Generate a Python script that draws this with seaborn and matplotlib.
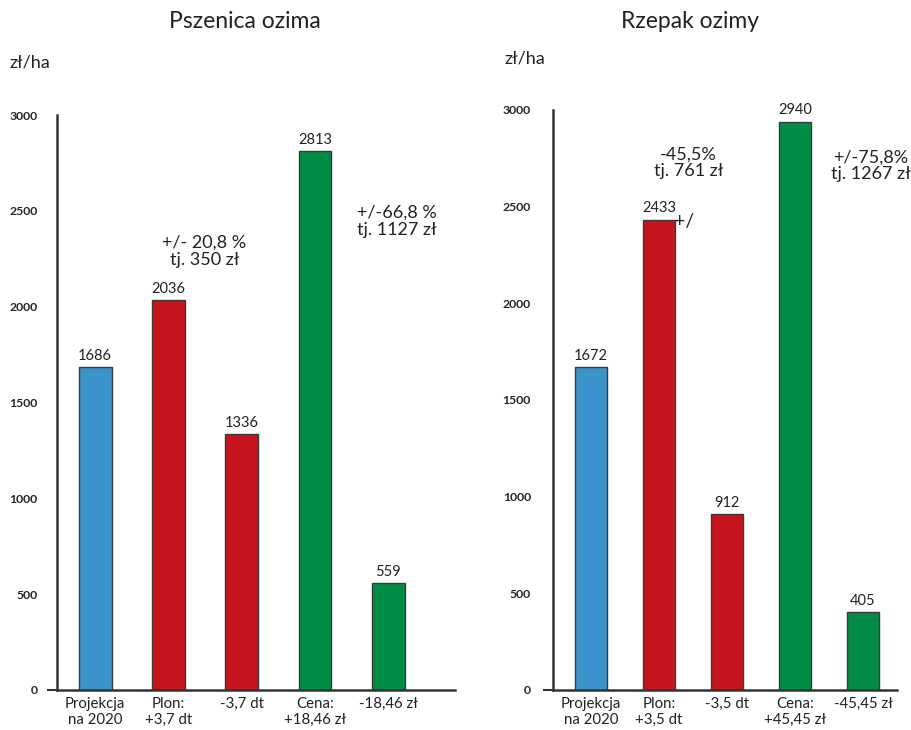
import matplotlib
matplotlib.use("Agg")
import matplotlib.pyplot as plt
import seaborn as sns

# dane
wheat_cats = ["Projekcja\nna 2020", "Plon:\n+3,7 dt", "-3,7 dt", "Cena:\n+18,46 zł", "-18,46 zł"]
wheat_vals = [1686, 2036, 1336, 2813, 559]
rape_cats = ["Projekcja\nna 2020", "Plon:\n+3,5 dt", "-3,5 dt", "Cena:\n+45,45 zł", "-45,45 zł"]
rape_vals = [1672, 2433, 912, 2940, 405]
yticks = [0, 500, 1000, 1500, 2000, 2500, 3000]

BLUE, RED, GREEN = "#3c92cb", "#c5141c", "#008c44"
bar_colors = [BLUE, RED, RED, GREEN, GREEN]

sns.set_theme(style="white")
plt.rcParams["font.family"] = ["Lato", "DejaVu Sans"]

fig = plt.figure(figsize=(9.11, 7.30), dpi=100)
ax1 = fig.add_axes([57 / 911, 40 / 730, (455 - 57) / 911, 575 / 730])
ax2 = fig.add_axes([553 / 911, 40 / 730, (897 - 553) / 911, 580 / 730])


def draw(ax, cats, vals, xlim, width, pad):
    sns.barplot(x=cats, y=vals, hue=cats, palette=bar_colors, legend=False,
                saturation=1, width=width, edgecolor="#3a3a3a", linewidth=1.0, ax=ax)
    for c in ax.containers:
        ax.bar_label(c, padding=3, fontsize=10.5, color="#222", clip_on=False)
    ax.set_ylim(0, 3000)
    ax.set_xlim(*xlim)
    ax.set_yticks(yticks)
    ax.set_yticklabels([str(t) for t in yticks], fontsize=8.8, fontweight="bold")
    ax.yaxis.remove_overlapping_locs = False
    ax.set_yticks([0], minor=True)
    ax.tick_params(axis="y", which="major", length=0, pad=pad)
    ax.tick_params(axis="y", which="minor", length=7, width=1.5, color="#333", left=True)
    ax.tick_params(axis="x", length=0, pad=5, labelsize=10.8, labelcolor="#222")
    for s in ["top", "right"]:
        ax.spines[s].set_visible(False)
    for s in ["left", "bottom"]:
        ax.spines[s].set_color("#333")
        ax.spines[s].set_linewidth(1.8)
    ax.set_xlabel("")
    ax.set_ylabel("")


draw(ax1, wheat_cats, wheat_vals, (-0.52, 4.91), 0.45, 14)
draw(ax2, rape_cats, rape_vals, (-0.56, 4.5), 0.47, 16)

# adnotacje
kw = dict(ha="center", va="center", fontsize=13, color="#222", clip_on=False)
ax1.text(1.49, 2290, "+/- 20,8 %\ntj. 350 zł", linespacing=1.1, **kw)
ax1.text(4.12, 2447, "+/-66,8 %\ntj. 1127 zł", linespacing=1.1, **kw)
ax2.text(1.43, 2726, "-45,5%\ntj. 761 zł", linespacing=1.0, **kw)
ax2.text(4.12, 2710, "+/-75,8%\ntj. 1267 zł", linespacing=1.0, **kw)
ax2.text(1.22, 2421, "+/", ha="left", va="center", fontsize=14, color="#222")

fig.text(245 / 911, 1 - 22 / 730, "Pszenica ozima", ha="center", va="center",
         fontsize=16.5, color="#222")
fig.text(690 / 911, 1 - 22 / 730, "Rzepak ozimy", ha="center", va="center",
         fontsize=16.5, color="#222")
fig.text(10 / 911, 1 - 62 / 730, "zł/ha", ha="left", va="center", fontsize=13, color="#222")
fig.text(505 / 911, 1 - 58 / 730, "zł/ha", ha="left", va="center", fontsize=13, color="#222")

fig.savefig("out.png", dpi=100)
